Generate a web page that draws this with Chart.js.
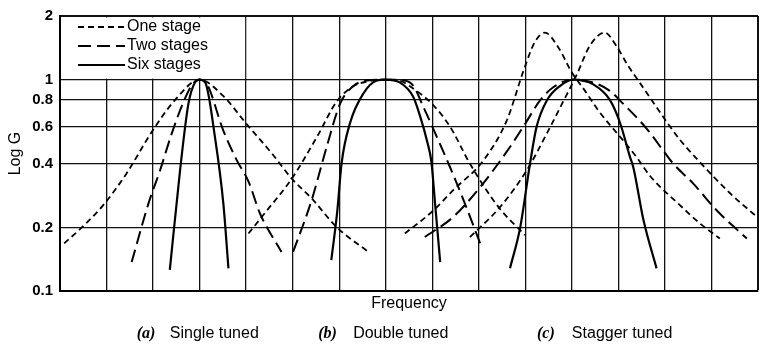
<!DOCTYPE html>
<html>
<head>
<meta charset="utf-8">
<script src="https://cdn.jsdelivr.net/npm/chart.js@4/dist/chart.umd.min.js"></script>
<style>
  html, body { margin: 0; padding: 0; background: #fff; }
</style>
</head>
<body>
<canvas id="gainChart" width="760" height="348"></canvas>
<script>
// [frequency, gain] points, one array per curve
const singleOne = [[0.09, 0.168], [0.47, 0.2], [0.93, 0.255], [1.43, 0.36], [1.97, 0.565], [2.47, 0.8], [3.0, 1.0],
  [3.5, 0.84], [4.0, 0.62], [4.58, 0.44], [4.98, 0.34], [5.41, 0.274], [5.95, 0.2], [6.63, 0.153]];
const singleTwo = [[1.54, 0.137], [1.9, 0.259], [2.15, 0.372], [2.4, 0.555], [2.65, 0.78], [2.86, 0.96], [3.0, 1.0],
  [3.15, 0.96], [3.51, 0.574], [3.8, 0.415], [4.05, 0.33], [4.3, 0.232], [4.76, 0.153]];
const singleSix = [[2.36, 0.126], [2.58, 0.372], [2.76, 0.77], [2.9, 0.97], [3.0, 1.0], [3.12, 0.97], [3.33, 0.535],
  [3.51, 0.26], [3.62, 0.128]];

const doubleOne = [[4.05, 0.187], [4.41, 0.235], [4.98, 0.34], [5.52, 0.535], [5.95, 0.79], [6.3, 0.93], [6.6, 0.98],
  [7.0, 1.0], [7.35, 0.98], [7.52, 0.93], [7.99, 0.77], [8.38, 0.6], [8.81, 0.4], [9.42, 0.25], [9.99, 0.184]];
const doubleTwo = [[5.01, 0.153], [5.41, 0.27], [5.73, 0.48], [6.02, 0.77], [6.3, 0.93], [6.59, 0.99], [7.0, 1.0],
  [7.4, 0.99], [7.6, 0.93], [7.8, 0.75], [8.1, 0.535], [8.38, 0.386], [8.67, 0.27], [9.03, 0.168]];
const doubleSix = [[5.83, 0.14], [5.96, 0.24], [6.05, 0.4], [6.23, 0.62], [6.52, 0.86], [6.81, 0.99], [7.0, 1.0],
  [7.3, 0.97], [7.59, 0.83], [7.74, 0.67], [7.9, 0.5], [7.98, 0.41], [8.06, 0.26], [8.17, 0.137]];

// stagger tuned, one stage: two offset single-tuned curves
const staggerOneLow = [[7.41, 0.187], [8.02, 0.24], [8.45, 0.3], [9.1, 0.415], [9.6, 0.64], [9.96, 1.1], [10.2, 1.5],
  [10.42, 1.67], [10.71, 1.42], [11.0, 1.08], [11.28, 0.887], [11.57, 0.714], [12.1, 0.516], [12.39, 0.43],
  [12.68, 0.35], [13.32, 0.255], [13.75, 0.209], [14.18, 0.177]];
const staggerOneHigh = [[8.81, 0.18], [9.46, 0.25], [10.03, 0.372], [10.46, 0.555], [10.89, 0.85], [11.1, 1.05],
  [11.39, 1.45], [11.71, 1.67], [11.95, 1.45], [12.2, 1.17], [12.47, 0.96], [12.75, 0.78], [13.04, 0.63],
  [13.32, 0.52], [13.65, 0.43], [14.4, 0.29], [14.97, 0.225]];
const staggerTwo = [[7.84, 0.18], [8.45, 0.224], [9.06, 0.316], [9.67, 0.48], [10.0, 0.62], [10.32, 0.8], [10.6, 0.92],
  [11.0, 1.0], [11.45, 0.97], [11.8, 0.89], [12.1, 0.77], [12.61, 0.585], [13.0, 0.45], [13.18, 0.4],
  [13.61, 0.322], [14.11, 0.241], [14.76, 0.177]];
const staggerSix = [[9.67, 0.128], [9.89, 0.2], [10.1, 0.4], [10.24, 0.596], [10.46, 0.795], [10.75, 0.935], [11.03, 1.0],
  [11.46, 0.95], [11.82, 0.8], [12.04, 0.62], [12.25, 0.43], [12.32, 0.385], [12.54, 0.216], [12.82, 0.128]];

const seriesLabels = ["One stage", "Two stages", "Six stages"];
const yTicks = [0.1, 0.2, 0.4, 0.6, 0.8, 1, 2];
const captionTags = ["(a)", "(b)", "(c)"];
const captions = ["Single tuned", "Double tuned", "Stagger tuned"];

const FONT = '"Liberation Sans", Arial, sans-serif';

// put several curves into one dataset, split by a null point
const joinCurves = (...curves) => {
  const pts = [];
  curves.forEach((curve, i) => {
    if (i > 0) pts.push({ x: curve[0][0], y: null });
    curve.forEach(([x, y]) => pts.push({ x, y }));
  });
  return pts;
};

// legend sits inside the plot, on a white patch in the top-left cells
const legendBox = {
  id: "legendBox",
  beforeDatasetsDraw(chart) {
    const { ctx, chartArea, scales } = chart;
    const right = scales.x.getPixelForValue(4);
    const bottom = scales.y.getPixelForValue(1);
    ctx.save();
    ctx.fillStyle = "#fff";
    ctx.fillRect(chartArea.left + 1, chartArea.top + 1.5, right - chartArea.left - 2, bottom - chartArea.top - 2.5);
    ctx.font = "16px " + FONT;
    ctx.textBaseline = "middle";
    ctx.fillStyle = "#000";
    ctx.strokeStyle = "#000";
    chart.data.datasets.forEach((ds, i) => {
      const y = chartArea.top + 11 + i * 19;
      ctx.beginPath();
      ctx.setLineDash(ds.borderDash || []);
      ctx.lineWidth = ds.borderWidth;
      ctx.moveTo(chartArea.left + 18, y);
      ctx.lineTo(chartArea.left + 65, y);
      ctx.stroke();
      ctx.fillText(ds.label, chartArea.left + 67, y);
    });
    ctx.restore();
  }
};

// "(a) Single tuned" etc. under the axis title
const captionRow = {
  id: "captionRow",
  afterDraw(chart) {
    const { ctx, scales } = chart;
    const tagAt = [1.65, 5.55, 10.25];
    const textAt = [2.36, 6.3, 11.0];
    ctx.save();
    ctx.fillStyle = "#000";
    ctx.textBaseline = "middle";
    ctx.textAlign = "left";
    captions.forEach((txt, i) => {
      ctx.font = 'italic bold 16px "Liberation Serif", serif';
      ctx.fillText(captionTags[i], scales.x.getPixelForValue(tagAt[i]), 334);
      ctx.font = "16px " + FONT;
      ctx.fillText(txt, scales.x.getPixelForValue(textAt[i]), 334);
    });
    ctx.restore();
  }
};

const ctx = document.getElementById("gainChart").getContext("2d");

new Chart(ctx, {
  type: "line",
  data: {
    datasets: [
      {
        label: seriesLabels[0],
        data: joinCurves(singleOne, doubleOne, staggerOneLow, staggerOneHigh),
        borderDash: [6, 4],
        borderWidth: 1.8
      },
      {
        label: seriesLabels[1],
        data: joinCurves(singleTwo, doubleTwo, staggerTwo),
        borderDash: [13, 6],
        borderWidth: 2
      },
      {
        label: seriesLabels[2],
        data: joinCurves(singleSix, doubleSix, staggerSix),
        borderDash: [],
        borderWidth: 2.2
      }
    ]
  },
  options: {
    responsive: false,
    animation: false,
    layout: { padding: { top: 15, right: 2, left: 0, bottom: 0 } },
    elements: {
      point: { radius: 0 },
      line: { cubicInterpolationMode: "monotone", borderColor: "#000", fill: false }
    },
    plugins: {
      legend: { display: false },
      tooltip: { enabled: false }
    },
    scales: {
      x: {
        type: "linear",
        min: 0,
        max: 15,
        ticks: { stepSize: 1, display: false },
        grid: {
          color: "#111",
          lineWidth: (c) => (c.tick && c.tick.value === 15 ? 2 : 1.3),
          drawTicks: false
        },
        border: { color: "#000", width: 2 },
        title: {
          display: true,
          text: "Frequency",
          color: "#000",
          font: { family: FONT, size: 16 },
          padding: { top: 0, bottom: 35 }
        },
        afterFit: (s) => { s.height = 57; }
      },
      y: {
        type: "logarithmic",
        min: 0.1,
        max: 2,
        afterBuildTicks: (s) => { s.ticks = yTicks.map((v) => ({ value: v })); },
        ticks: {
          autoSkip: false,
          padding: 7,
          color: "#000",
          font: { family: FONT, size: 15, weight: "bold" },
          callback: (v) => String(v)
        },
        grid: {
          color: "#111",
          lineWidth: (c) => (c.tick && c.tick.value === 2 ? 2 : 1.3),
          drawTicks: false
        },
        border: { color: "#000", width: 2 },
        title: {
          display: true,
          text: "Log G",
          color: "#000",
          font: { family: FONT, size: 16 },
          padding: { top: 6 }
        },
        afterFit: (s) => { s.width = 60; }
      }
    }
  },
  plugins: [legendBox, captionRow]
});
</script>
</body>
</html>
